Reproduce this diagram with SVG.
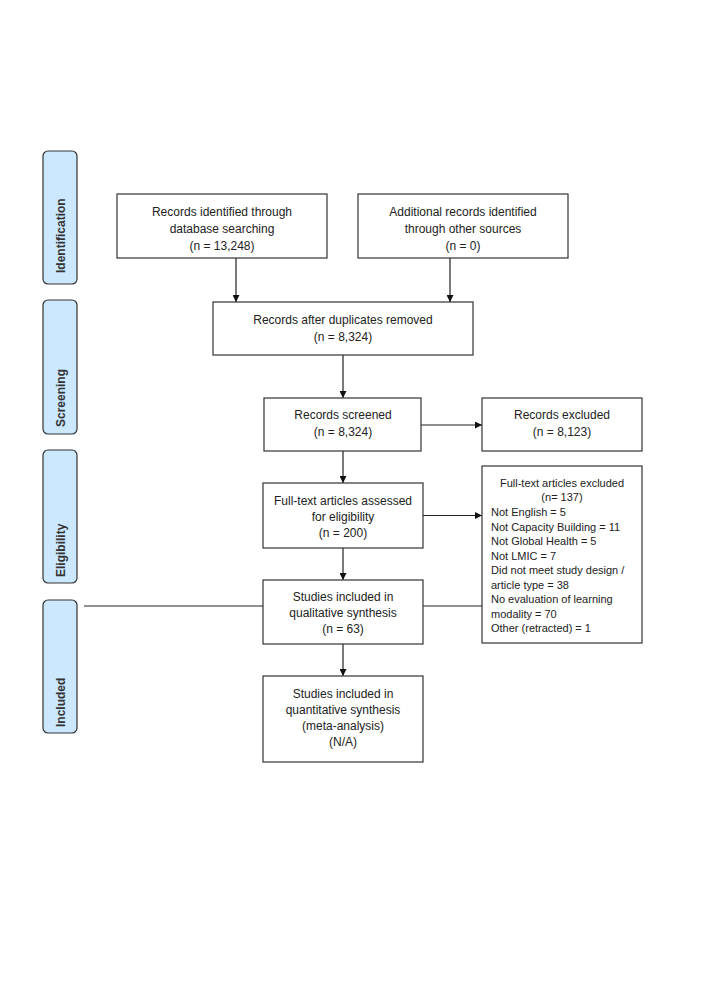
<svg xmlns="http://www.w3.org/2000/svg" width="708" height="1002" viewBox="0 0 708 1002">
  <style>
    .box { fill: #ffffff; stroke: #333333; stroke-width: 1.2; }
    .phase { fill: #cce8ff; stroke: #333333; stroke-width: 1.2; }
    .t { font-family: "Liberation Sans", Arial, sans-serif; font-size: 12px; fill: #222222; text-anchor: middle; }
    .ts { font-family: "Liberation Sans", Arial, sans-serif; font-size: 11px; fill: #222222; }
    .tp { font-family: "Liberation Sans", Arial, sans-serif; font-size: 12px; font-weight: bold; fill: #333333; text-anchor: start; }
    .c { fill: none; stroke: #222222; stroke-width: 1.2; }
  </style>
  <defs>
    <marker id="arr" markerUnits="userSpaceOnUse" markerWidth="7" markerHeight="7" refX="7" refY="3.5" orient="auto">
      <path d="M0,0 L7,3.5 L0,7 z" fill="#111111"/>
    </marker>
  </defs>
  <rect width="708" height="1002" fill="#ffffff"/>

  <g id="phase-identification">
    <rect class="phase" x="43" y="151" width="34" height="133" rx="5"/>
    <text class="tp" transform="translate(64.5,273) rotate(-90)">Identification</text>
  </g>
  <g id="phase-screening">
    <rect class="phase" x="43" y="300" width="34" height="134" rx="5"/>
    <text class="tp" transform="translate(64.5,427) rotate(-90)">Screening</text>
  </g>
  <g id="phase-eligibility">
    <rect class="phase" x="43" y="450" width="34" height="133" rx="5"/>
    <text class="tp" transform="translate(64.5,577) rotate(-90)">Eligibility</text>
  </g>
  <g id="phase-included">
    <rect class="phase" x="43" y="600" width="34" height="133" rx="5"/>
    <text class="tp" transform="translate(64.5,727) rotate(-90)">Included</text>
  </g>

  <g id="connectors">
    <line class="c" x1="236" y1="258" x2="236" y2="302" marker-end="url(#arr)"/>
    <line class="c" x1="450" y1="258" x2="450" y2="302" marker-end="url(#arr)"/>
    <line class="c" x1="343" y1="355" x2="343" y2="398" marker-end="url(#arr)"/>
    <line class="c" x1="421" y1="425" x2="482" y2="425" marker-end="url(#arr)"/>
    <line class="c" x1="343" y1="451" x2="343" y2="483" marker-end="url(#arr)"/>
    <line class="c" x1="423" y1="515.5" x2="482" y2="515.5" marker-end="url(#arr)"/>
    <line class="c" x1="343" y1="548" x2="343" y2="580" marker-end="url(#arr)"/>
    <line class="c" x1="84" y1="606" x2="263" y2="606"/>
    <line class="c" x1="423" y1="606" x2="482" y2="606"/>
    <line class="c" x1="343" y1="644" x2="343" y2="676" marker-end="url(#arr)"/>
  </g>

  <g id="db-search">
    <rect class="box" x="117" y="194" width="210" height="64"/>
    <text class="t" x="222" y="216">Records identified through</text>
    <text class="t" x="222" y="232.5">database searching</text>
    <text class="t" x="222" y="250">(n = 13,248)</text>
  </g>
  <g id="other-sources">
    <rect class="box" x="358" y="194" width="210" height="64"/>
    <text class="t" x="463" y="216">Additional records identified</text>
    <text class="t" x="463" y="232.5">through other sources</text>
    <text class="t" x="463" y="250">(n = 0)</text>
  </g>
  <g id="duplicates-removed">
    <rect class="box" x="213" y="302" width="260" height="53"/>
    <text class="t" x="343" y="323.5">Records after duplicates removed</text>
    <text class="t" x="343" y="341">(n = 8,324)</text>
  </g>
  <g id="records-screened">
    <rect class="box" x="264" y="398" width="157" height="53"/>
    <text class="t" x="343" y="419">Records screened</text>
    <text class="t" x="343" y="435.5">(n = 8,324)</text>
  </g>
  <g id="records-excluded">
    <rect class="box" x="482" y="398" width="160" height="53"/>
    <text class="t" x="562" y="419">Records excluded</text>
    <text class="t" x="562" y="435.5">(n = 8,123)</text>
  </g>
  <g id="fulltext-assessed">
    <rect class="box" x="263" y="483" width="160" height="65"/>
    <text class="t" x="343" y="505">Full-text articles assessed</text>
    <text class="t" x="343" y="521">for eligibility</text>
    <text class="t" x="343" y="537">(n = 200)</text>
  </g>
  <g id="fulltext-excluded">
    <rect class="box" x="482" y="466" width="160" height="177"/>
    <text class="ts" x="562" y="487" text-anchor="middle">Full-text articles excluded</text>
    <text class="ts" x="562" y="501" text-anchor="middle">(n= 137)</text>
    <text class="ts" x="491" y="516">Not English = 5</text>
    <text class="ts" x="491" y="530.5">Not Capacity Building = 11</text>
    <text class="ts" x="491" y="545">Not Global Health = 5</text>
    <text class="ts" x="491" y="559.5">Not LMIC = 7</text>
    <text class="ts" x="491" y="574">Did not meet study design /</text>
    <text class="ts" x="491" y="588.5">article type = 38</text>
    <text class="ts" x="491" y="603">No evaluation of learning</text>
    <text class="ts" x="491" y="617.5">modality = 70</text>
    <text class="ts" x="491" y="632">Other (retracted) = 1</text>
  </g>
  <g id="qualitative">
    <rect class="box" x="263" y="580" width="160" height="64"/>
    <text class="t" x="343" y="601">Studies included in</text>
    <text class="t" x="343" y="617">qualitative synthesis</text>
    <text class="t" x="343" y="633">(n = 63)</text>
  </g>
  <g id="quantitative">
    <rect class="box" x="263" y="676" width="160" height="86"/>
    <text class="t" x="343" y="698">Studies included in</text>
    <text class="t" x="343" y="714">quantitative synthesis</text>
    <text class="t" x="343" y="730">(meta-analysis)</text>
    <text class="t" x="343" y="746">(N/A)</text>
  </g>
</svg>
